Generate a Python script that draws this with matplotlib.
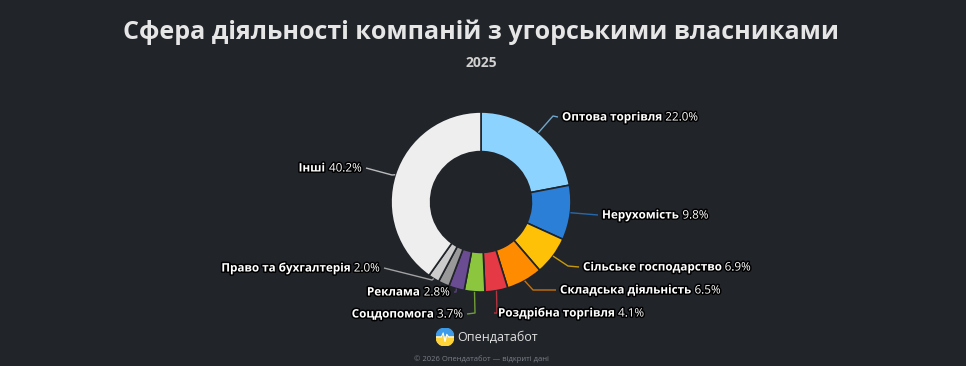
import numpy as np
import matplotlib
matplotlib.use("Agg")
import matplotlib.pyplot as plt
import matplotlib.patheffects as pe
from matplotlib.patches import Wedge

plt.rcParams['font.family'] = ['Open Sans', 'DejaVu Sans']

# data
categories = ["Оптова торгівля", "Нерухомість", "Сільське господарство",
              "Складська діяльність", "Роздрібна торгівля", "Соцдопомога",
              "Реклама", "", "Право та бухгалтерія", "Інші"]
shares = [22.0, 9.8, 6.9, 6.5, 4.1, 3.7, 2.8, 2.0, 2.0, 40.2]
colors = ["#8dd3ff", "#2b7fd6", "#ffc107", "#ff8c00", "#e63946",
          "#8cc63f", "#6a4c93", "#999999", "#cccccc", "#eeeeee"]

BG = "#212429"
W, H = 966, 366
CX, CY, R = 481, 202, 90

fig = plt.figure(figsize=(W / 100, H / 100), dpi=100, facecolor=BG)

# pie axes placed so its centre / radius match the reference
pax = fig.add_axes([(CX - R) / W, (H - CY - R) / H, 2 * R / W, 2 * R / H])
pax.set_facecolor(BG)
wedges, _ = pax.pie(shares, colors=colors, startangle=90, counterclock=False,
                    radius=1.0,
                    wedgeprops=dict(width=0.44, edgecolor=BG, linewidth=1.2))
pax.set_xlim(-1, 1)
pax.set_ylim(-1, 1)
pax.set_aspect("equal")
pax.axis("off")

# overlay axes in pixel coordinates for text / connectors
ov = fig.add_axes([0, 0, 1, 1], facecolor="none")
ov.set_xlim(0, W)
ov.set_ylim(H, 0)
ov.axis("off")

# label anchor (x, y, side) : side +1 -> label to the right, -1 -> to the left
label_pos = {
    0: (562, 117, 1), 1: (602, 215, 1), 2: (583, 267, 1), 3: (560, 290, 1),
    4: (498, 313, 1), 5: (463, 314, -1), 6: (450, 292, -1), 8: (380, 268, -1),
    9: (362, 168, -1),
}
elbow = {0: (553, 116), 2: (568, 266), 3: (533, 290), 4: (497, 313),
         5: (475, 313), 6: (456, 292), 8: (432, 280), 9: (392, 175)}

outline = [pe.withStroke(linewidth=2.2, foreground="#000000")]
FS = 8.4
GAP = 3  # points

for i, w in enumerate(wedges):
    if i not in label_pos or not categories[i]:
        continue
    lx, ly, side = label_pos[i]
    mid = np.deg2rad((w.theta1 + w.theta2) / 2)
    sx, sy = ov.transData.inverted().transform(
        pax.transData.transform((np.cos(mid), np.sin(mid))))
    pts = [(sx, sy)]
    if i in elbow:
        pts.append(elbow[i])
    pts.append((lx - 4 * side, ly))
    xs, ys = zip(*pts)
    ov.plot(xs, ys, color=colors[i], lw=1, alpha=0.75, solid_capstyle="butt")

    name = categories[i]
    value = f"{shares[i]:.1f}%"
    if side > 0:
        t = ov.text(lx, ly, name, fontsize=FS, fontweight="bold", color="white",
                    ha="left", va="center", path_effects=outline)
        ov.annotate(value, xy=(1, 0.5), xycoords=t, xytext=(GAP, 0),
                    textcoords="offset points", fontsize=FS, color="white",
                    ha="left", va="center", path_effects=outline)
    else:
        t = ov.text(lx, ly, value, fontsize=FS, color="white", ha="right",
                    va="center", path_effects=outline)
        ov.annotate(name, xy=(0, 0.5), xycoords=t, xytext=(-GAP, 0),
                    textcoords="offset points", fontsize=FS, fontweight="bold",
                    color="white", ha="right", va="center", path_effects=outline)

# titles
ov.text(CX, 32, "Сфера діяльності компаній з угорськими власниками",
        fontsize=18, fontweight="bold", color="#e6e6e6", ha="center", va="center")
ov.text(CX, 63, "2025", fontsize=10, fontweight="bold", color="#d0d0d0",
        ha="center", va="center")

# logo
lax = fig.add_axes([(445 - 9) / W, (H - 337 - 9) / H, 18 / W, 18 / H])
lax.add_patch(Wedge((0, 0), 1, 0, 180, color="#3d9be9"))
lax.add_patch(Wedge((0, 0), 1, 180, 360, color="#ffd43b"))
lax.plot([-1, -0.4, -0.2, 0.0, 0.2, 0.4, 1], [0, 0, 0.45, -0.5, 0.3, 0, 0],
         color="white", lw=0.8)
lax.set_xlim(-1, 1)
lax.set_ylim(-1, 1)
lax.set_aspect("equal")
lax.axis("off")
ov.text(457, 337, "Опендатабот", fontsize=9, color="#e0e0e0", ha="left", va="center")

# footer
ov.text(CX, 359, "© 2026 Опендатабот — відкриті дані", fontsize=5.5,
        color="#7a7f88", ha="center", va="center")

fig.savefig("out.png", dpi=100, facecolor=BG)
